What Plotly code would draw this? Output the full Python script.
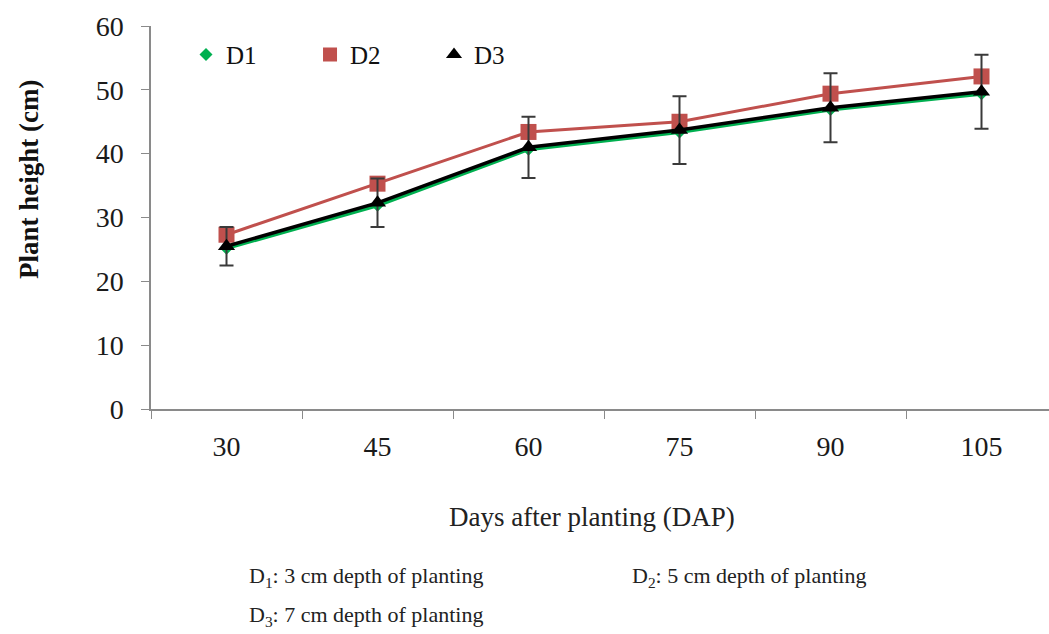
import plotly.graph_objects as go

days = ["30", "45", "60", "75", "90", "105"]
d1 = [25.2, 31.9, 40.7, 43.4, 46.9, 49.4]
d2 = [27.3, 35.3, 43.4, 45.0, 49.4, 52.1]
d3 = [25.5, 32.3, 41.0, 43.7, 47.2, 49.7]
err = [3.0, 3.8, 4.8, 5.3, 5.4, 5.8]

series_names = ["D1", "D2", "D3"]
colors = ["#00B050", "#C0504D", "#000000"]
symbols = ["diamond", "square", "triangle-up"]

font_family = "Liberation Serif, Times New Roman, serif"

W, H = 1049, 634
L, R, T, B = 151, 0, 26, 225

fig = go.Figure()
fig.add_trace(go.Scatter(
    x=days, y=d1, name="D1", mode="lines+markers", showlegend=False,
    line=dict(color=colors[0], width=4),
    marker=dict(symbol=symbols[0], size=10, color=colors[0]),
))
fig.add_trace(go.Scatter(
    x=days, y=d2, name="D2", mode="lines+markers", showlegend=False,
    line=dict(color=colors[1], width=3),
    marker=dict(symbol=symbols[1], size=16, color=colors[1]),
))
fig.add_trace(go.Scatter(
    x=days, y=d3, name="D3", mode="lines+markers", showlegend=False,
    line=dict(color=colors[2], width=3.5),
    marker=dict(symbol=symbols[2], size=15, color=colors[2]),
    error_y=dict(type="data", array=err, visible=True, color="#3a3a3a",
                 thickness=2, width=7),
))
# legend entries (markers only, as in the reference)
for nm, c, s, sz in zip(series_names, colors, symbols, [10, 14, 14]):
    fig.add_trace(go.Scatter(
        x=[None], y=[None], name=nm, mode="markers",
        marker=dict(symbol=s, size=sz, color=c),
    ))

fig.update_layout(
    width=W, height=H,
    margin=dict(l=L, r=R, t=T, b=B),
    paper_bgcolor="white", plot_bgcolor="white",
    font=dict(family=font_family, color="#222"),
    showlegend=True,
    legend=dict(orientation="h", x=0.039, y=0.985, xanchor="left", yanchor="top",
                font=dict(size=25, family=font_family, color="#111"),
                bgcolor="rgba(0,0,0,0)", itemwidth=30,
                entrywidth=79),
    xaxis=dict(
        type="category", categoryorder="array", categoryarray=days,
        range=[-0.5, 5.447],
        showline=True, linecolor="#8a8a8a", linewidth=1.5,
        ticks="outside", tickson="boundaries", ticklen=8, tickcolor="#8a8a8a",
        showgrid=False, zeroline=False,
        tickfont=dict(size=28, family=font_family, color="#1a1a1a"),
        ticklabelstandoff=12,
    ),
    yaxis=dict(
        range=[0, 60], tickvals=[0, 10, 20, 30, 40, 50, 60],
        showline=True, linecolor="#8a8a8a", linewidth=1.5,
        ticks="outside", ticklen=8, tickcolor="#8a8a8a",
        showgrid=False, zeroline=False,
        tickfont=dict(size=28, family=font_family, color="#1a1a1a"),
        ticklabelstandoff=12,
    ),
)

def px(x):
    return (x - L) / (W - L - R)

def py(y):
    return (H - B - y) / (H - T - B)

# axis titles placed as in the reference
fig.add_annotation(
    text="<b>Plant height (cm)</b>", xref="paper", yref="paper",
    x=px(29), y=py(180), xanchor="center", yanchor="middle", textangle=-90,
    showarrow=False, font=dict(size=27, family=font_family, color="#111"),
)
fig.add_annotation(
    text="Days after planting (DAP)", xref="paper", yref="paper",
    x=px(592), y=py(517), xanchor="center", yanchor="middle",
    showarrow=False, font=dict(size=27, family=font_family, color="#222"),
)

notes = [
    ("D<sub>1</sub>: 3 cm depth of planting", 247, 577),
    ("D<sub>2</sub>: 5 cm depth of planting", 630, 577),
    ("D<sub>3</sub>: 7 cm depth of planting", 247, 616),
]
for txt, nx, ny in notes:
    fig.add_annotation(
        text=txt, xref="paper", yref="paper",
        x=px(nx), y=py(ny), xanchor="left", yanchor="middle", showarrow=False,
        font=dict(size=22, family=font_family, color="#222"),
    )

fig.write_html("out.html")
